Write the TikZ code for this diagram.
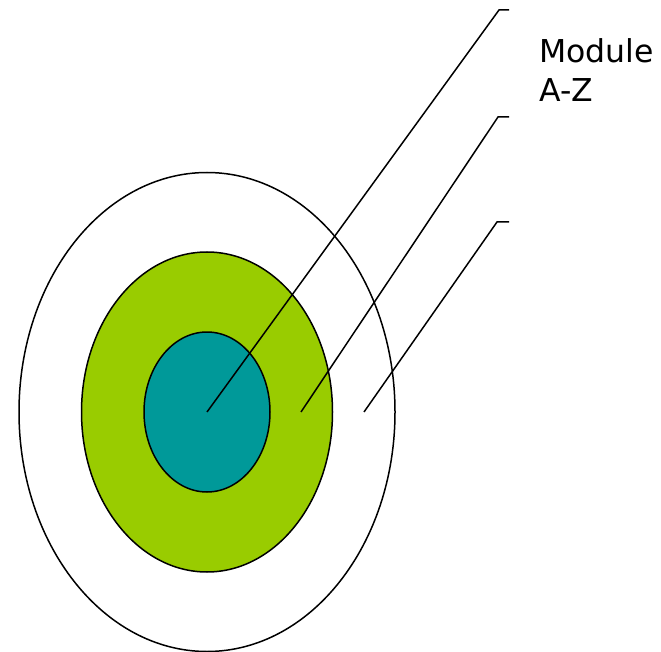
\documentclass[tikz,border=0pt]{standalone}
\usepackage{fontspec}
\setmainfont{DejaVu Sans}
\usetikzlibrary{shapes.geometric}
\definecolor{ringgreen}{RGB}{153,204,0}
\definecolor{coreteal}{RGB}{0,153,153}
\tikzset{
  ring/.style={draw=black, line width=1.5pt, ellipse, inner sep=0pt, minimum width=2*#1},
  pointer/.style={draw=black, line width=1.5pt, line join=miter},
}
\begin{document}
\begin{tikzpicture}[x=1pt,y=-1pt]
\useasboundingbox (0,0) rectangle (661,652);
\node[ring=188, minimum height=479, fill=white] (outer) at (207,412) {};
\node[ring=125.5, minimum height=320, fill=ringgreen] (middle) at (207,412) {};
\node[ring=63, minimum height=160, fill=coreteal] (inner) at (207,412) {};
\coordinate (p1) at (207,412);
\coordinate (p2) at (301,412);
\coordinate (p3) at (364,412);
\coordinate (k1) at (499,10);
\coordinate (k2) at (498,117);
\coordinate (k3) at (497,222);
\coordinate (e1) at (509,10);
\coordinate (e2) at (509,117);
\coordinate (e3) at (509,222);
\draw[pointer] (p1) -- (k1) -- (e1);
\draw[pointer] (p2) -- (k2) -- (e2);
\draw[pointer] (p3) -- (k3) -- (e3);
\node[anchor=base west, inner sep=0pt, align=left, font=\fontsize{31.5pt}{39pt}\selectfont] (label) at (539,102) {Module\\A-Z};
\end{tikzpicture}
\end{document}
